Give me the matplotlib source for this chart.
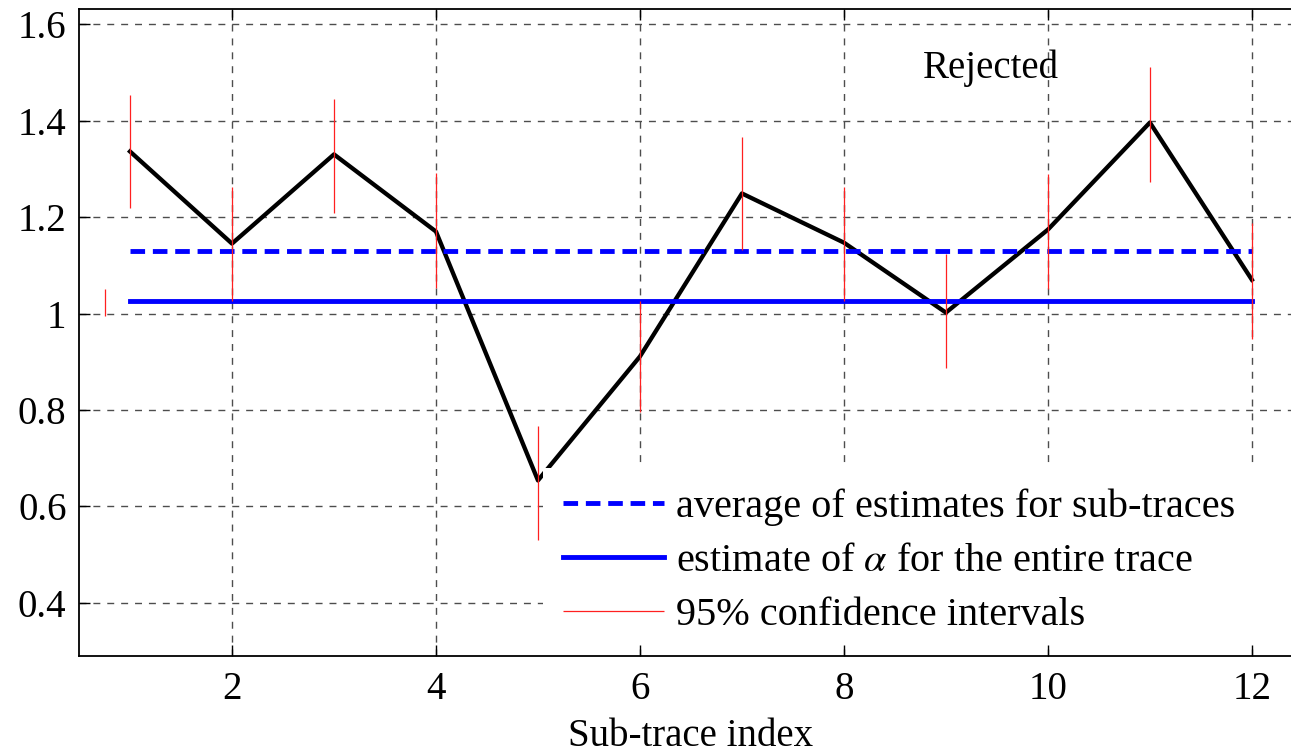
import numpy as np
import matplotlib
matplotlib.use("Agg")
from matplotlib import pyplot as plt
from matplotlib.patches import Rectangle

plt.rcParams['font.family'] = ['Liberation Serif', 'DejaVu Serif']
plt.rcParams['mathtext.fontset'] = 'stix'

# data
idx = [1, 2, 3, 4, 5, 6, 7, 8, 9, 10, 11, 12]
alpha_sub = [1.336, 1.145, 1.330, 1.170, 0.654, 0.911, 1.249, 1.147, 1.002, 1.174, 1.396, 1.070]
ci_low = [1.218, 1.027, 1.208, 1.052, 0.531, 0.795, 1.131, 1.027, 0.888, 1.050, 1.272, 0.948]
ci_high = [1.453, 1.262, 1.444, 1.291, 0.767, 1.027, 1.365, 1.262, 1.123, 1.289, 1.511, 1.187]
# lone short red bar left of the first sub-trace
stray_x = [0.75]
stray_low = [0.994]
stray_high = [1.050]
avg_sub = 1.129
alpha_entire = 1.025

fig = plt.figure(figsize=(12.91, 7.53), dpi=100)
ax = fig.add_axes([0.0612, 0.1288, 0.948, 0.859])

ax.plot(idx, alpha_sub, color='black', lw=3.1, zorder=3)
ax.plot([idx[0], idx[-1]], [avg_sub, avg_sub], color='#0000ff', lw=3.5,
        linestyle=(0, (3, 1.6)), label='average of estimates for sub-traces', zorder=3)
ax.plot([idx[0], idx[-1]], [alpha_entire, alpha_entire], color='#0000ff', lw=3.5,
        label=r'estimate of $\alpha$ for the entire trace', zorder=3)
ax.vlines(idx, ci_low, ci_high, color='#ff2020', lw=0.9, label='95% confidence intervals', zorder=4)
ax.vlines(stray_x, stray_low, stray_high, color='#ff2020', lw=0.9, zorder=4)

ax.text(9.44, 1.509, 'Rejected', fontsize=28, ha='center', va='center')

ax.set_xlim(0.5, 12.5)
ax.set_ylim(0.29, 1.631)
ax.set_xticks([2, 4, 6, 8, 10, 12])
ax.set_yticks([0.4, 0.6, 0.8, 1.0, 1.2, 1.4, 1.6])
ax.set_yticklabels(['0.4', '0.6', '0.8', '1', '1.2', '1.4', '1.6'])
ax.tick_params(direction='in', length=8, width=1, labelsize=28, top=True, right=False)
ax.tick_params(axis='y', pad=9)
ax.tick_params(axis='x', pad=11)
ax.grid(True, color='0.3', linestyle=(0, (5, 5)), lw=1)
for s in ax.spines.values():
    s.set_linewidth(1.3)
    s.set_zorder(6)
ax.spines['right'].set_visible(False)
ax.set_xlabel('Sub-trace index', fontsize=28, labelpad=7)

# white legend background, no border (covers grid + black line, not the ticks)
x0 = 543 / 1291
ytop = (753 - 468) / 753
ybot = (753 - 644) / 753
bg = Rectangle((x0, ybot), 1.02 - x0, ytop - ybot, transform=fig.transFigure,
               facecolor='white', edgecolor='none', zorder=3.5)
ax.add_artist(bg)
bg.set_clip_on(False)

leg = ax.legend(loc='upper left', bbox_to_anchor=(x0, ytop),
                bbox_transform=fig.transFigure, fontsize=29, frameon=False,
                borderpad=0.5, handlelength=2.5, handletextpad=0.3,
                labelspacing=0.42, borderaxespad=0)
leg.set_zorder(3.6)

fig.savefig('out.png', dpi=100)
